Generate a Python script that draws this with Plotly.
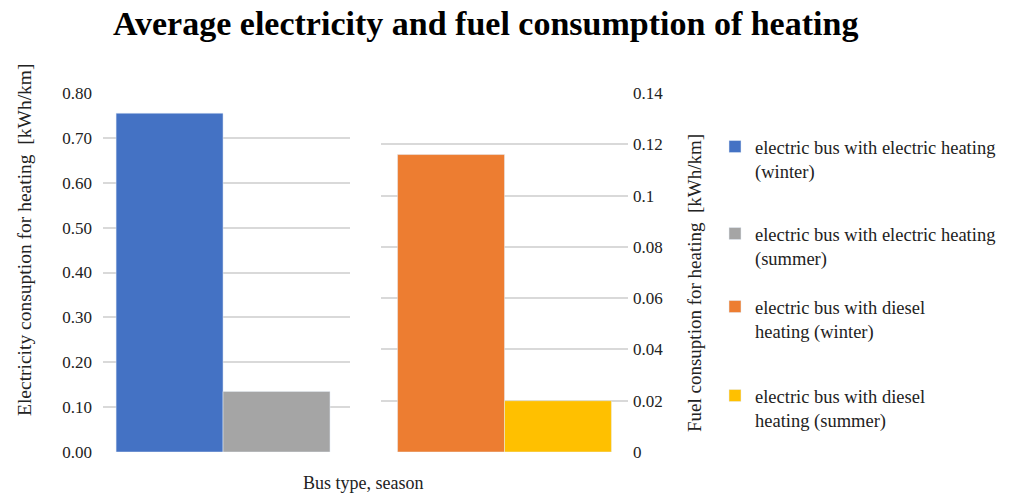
import plotly.graph_objects as go

# Data
group_labels = ["electric heating", "diesel heating"]
series_names = [
    "electric bus with electric heating<br>(winter)",
    "electric bus with electric heating<br>(summer)",
    "electric bus with diesel<br>heating (winter)",
    "electric bus with diesel<br>heating (summer)",
]
electric_winter = [0.755]
electric_summer = [0.135]
diesel_winter = [0.116]
diesel_summer = [0.020]

left_ticks = [0.0, 0.1, 0.2, 0.3, 0.4, 0.5, 0.6, 0.7, 0.8]
right_ticks = [0, 0.02, 0.04, 0.06, 0.08, 0.1, 0.12, 0.14]

colors = ["#4472C4", "#A5A5A5", "#ED7D31", "#FFC000"]

W, H = 1019, 496
SERIF = "Liberation Serif"
GRID = "#D9D9D9"
TEXT = "#222222"


def px(x):
    return x / W


def py(y):
    return (H - y) / H


fig = go.Figure()

fig.add_trace(go.Bar(x=[group_labels[0]], y=electric_winter, name=series_names[0],
                     marker=dict(color=colors[0]), xaxis="x", yaxis="y", legend="legend"))
fig.add_trace(go.Bar(x=[group_labels[0]], y=electric_summer, name=series_names[1],
                     marker=dict(color=colors[1]), xaxis="x", yaxis="y", legend="legend2"))
fig.add_trace(go.Bar(x=[group_labels[1]], y=diesel_winter, name=series_names[2],
                     marker=dict(color=colors[2]), xaxis="x2", yaxis="y2", legend="legend3"))
fig.add_trace(go.Bar(x=[group_labels[1]], y=diesel_summer, name=series_names[3],
                     marker=dict(color=colors[3]), xaxis="x2", yaxis="y2", legend="legend4"))

ydom = [py(452), py(93)]
tick_font = dict(family=SERIF, size=17, color=TEXT)

legend_font = dict(family=SERIF, size=18.5, color=TEXT)
legend_common = dict(x=px(715), xanchor="left", yanchor="top", font=legend_font,
                     valign="top", bgcolor="rgba(0,0,0,0)")

fig.update_layout(
    width=W, height=H,
    margin=dict(l=0, r=0, t=0, b=0, autoexpand=False),
    plot_bgcolor="white", paper_bgcolor="white",
    barmode="group", bargap=0.134, bargroupgap=0,
    showlegend=True,
    xaxis=dict(domain=[px(103), px(350)], showticklabels=False, showgrid=False,
               zeroline=False, showline=False, range=[-0.486, 0.514]),
    xaxis2=dict(domain=[px(381), px(628)], showticklabels=False, showgrid=False,
                zeroline=False, showline=False, anchor="y2"),
    yaxis=dict(domain=ydom, range=[0, 0.8], tickvals=left_ticks, tickformat=".2f",
               showgrid=True, gridcolor=GRID, gridwidth=1.5, zeroline=False,
               showline=False, tickfont=tick_font, ticklabelstandoff=10),
    yaxis2=dict(domain=ydom, range=[0, 0.14], tickvals=right_ticks, side="right",
                anchor="x2", showgrid=True, gridcolor=GRID, gridwidth=1.5,
                zeroline=False, showline=False, tickfont=tick_font, ticklabelstandoff=4),
    legend=dict(y=py(128), **legend_common),
    legend2=dict(y=py(215), **legend_common),
    legend3=dict(y=py(288), **legend_common),
    legend4=dict(y=py(377), **legend_common),
)

annotations = [
    dict(text="<b>Average electricity and fuel consumption of heating</b>",
         x=px(485), y=py(24), xref="paper", yref="paper", showarrow=False,
         xanchor="center", yanchor="middle", font=dict(family=SERIF, size=34, color="black")),
    dict(text="Electricity consuption for heating  [kWh/km]",
         x=px(24), y=py(240), xref="paper", yref="paper", showarrow=False,
         xanchor="center", yanchor="middle", textangle=-90,
         font=dict(family=SERIF, size=19.5, color=TEXT)),
    dict(text="Fuel consuption for heating  [kWh/km]",
         x=px(694), y=py(283), xref="paper", yref="paper", showarrow=False,
         xanchor="center", yanchor="middle", textangle=-90,
         font=dict(family=SERIF, size=19, color=TEXT)),
    dict(text="Bus type, season",
         x=px(363), y=py(483), xref="paper", yref="paper", showarrow=False,
         xanchor="center", yanchor="middle", font=dict(family=SERIF, size=18, color=TEXT)),
]
fig.update_layout(annotations=annotations)

fig.write_html("out.html")
